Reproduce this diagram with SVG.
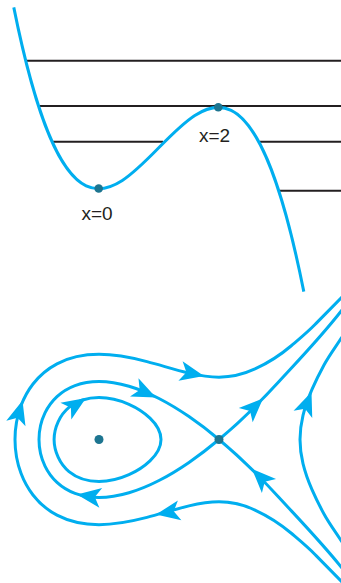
<svg xmlns="http://www.w3.org/2000/svg" xmlns:xlink="http://www.w3.org/1999/xlink" width="341" height="583" viewBox="0 0 341 583">
<style>
.lvl{stroke:#231f20;stroke-width:2;fill:none}
.blue{stroke:#00aeef;stroke-width:3;fill:none;stroke-linejoin:round}
.dot{fill:#1d7590}
.lbl{font-family:"Liberation Sans",Arial,sans-serif;font-size:19px;fill:#231f20}
.ah{fill:#00aeef}
</style>
<defs>
<path id="ah" d="M0,0 L-24,-10 L-18,0 L-24,10 Z"/>
</defs>
<g id="potential">
<g id="levels">
<line class="lvl" x1="25" y1="60.7" x2="341" y2="60.7"/>
<line class="lvl" x1="38.5" y1="106" x2="341" y2="106"/>
<line class="lvl" x1="52" y1="141.7" x2="163" y2="141.7"/>
<line class="lvl" x1="260" y1="141.7" x2="341" y2="141.7"/>
<line class="lvl" x1="280" y1="190.7" x2="341" y2="190.7"/>
</g>
<path id="V" class="blue" d="M13.78,7.33 C110.46,486.65 207.14,-192.45 303.81,291.65"/>
<g id="min"><circle class="dot" cx="98.7" cy="188.5" r="4.3"/><text class="lbl" x="81.5" y="220">x=0</text></g>
<g id="max"><circle class="dot" cx="218.3" cy="107.3" r="4.3"/><text class="lbl" x="199" y="142">x=2</text></g>
</g>
<g id="phase">
<g id="orbits">
<path id="inner" class="blue" d="M54.1,439.5 C54.1,427.7 59.87,414.88 69,407.4 C77.13,400.74 88.5,397.5 99,397.5 C109.3,397.5 119.6,400.1 129,404.3 C136.67,407.73 143.94,412.26 150,418.07 C155.78,423.61 161,431.5 161,439.5 C161,447.5 155.78,455.39 150,460.93 C143.94,466.74 136.67,471.27 129,474.7 C119.6,478.9 109.3,481.5 99,481.5 C88.5,481.5 77.13,478.26 69,471.6 C59.87,464.12 54.1,451.3 54.1,439.5 Z"/>
<path id="homoclinic" class="blue" d="M219,439.5 C209.34,447.59 199.38,455.27 189,462.4 C179.36,469.02 169.41,475.16 159,480.5 C149.39,485.42 139.36,489.68 129,492.75 C119.31,495.62 109.1,497.5 99,497.5 C90.88,497.5 82.61,496.24 75,493.4 C68.41,490.94 62.16,487.17 57,482.4 C52.05,477.82 47.94,472.18 45,466.1 C41.03,457.91 39,448.6 39,439.5 C39,430.4 41.03,421.09 45,412.9 C47.94,406.82 52.05,401.18 57,396.6 C62.16,391.83 68.41,388.06 75,385.6 C82.61,382.76 90.88,381.5 99,381.5 C109.1,381.5 119.31,383.38 129,386.25 C139.36,389.32 149.39,393.58 159,398.5 C169.41,403.84 179.36,409.98 189,416.6 C199.38,423.73 209.34,431.41 219,439.5"/>
<path id="unstable" class="blue" d="M219,439.5 C240.3,421.65 260.2,402 279,381.5 C300.2,358.5 322,335.9 342,310"/>
<path id="stable" class="blue" d="M219,439.5 C240.3,457.35 260.2,477 279,497.5 C300.2,520.5 322,543.1 342,568"/>
<path id="outer" class="blue" d="M342,582 C332.32,572.15 323.63,563.4 315,554.5 C307.55,546.82 299.14,539.94 291,533 C280.19,523.78 267.88,516.01 255,510.03 C243.84,504.85 231.3,501.83 219,501.83 C208.9,501.83 198.83,503.58 189,505.91 C174.89,509.26 161.04,513.73 147,517.37 C131.32,521.44 115.2,524.63 99,524.63 C84.65,524.63 69.7,521.82 57,515.15 C47.75,510.29 39.4,503.25 33,494.98 C27.94,488.44 23.9,481.02 21,473.28 C17,462.61 15,450.9 15,439.5 C15,428.1 17,416.39 21,405.72 C23.9,397.98 27.94,390.56 33,384.02 C39.4,375.75 47.75,368.71 57,363.85 C69.7,357.18 84.65,354.37 99,354.37 C115.2,354.37 131.32,357.56 147,361.63 C161.04,365.27 174.89,369.74 189,373.09 C198.83,375.42 208.9,377.17 219,377.17 C231.3,377.17 243.84,374.15 255,368.97 C267.88,362.99 280.19,355.22 291,346 C299.14,339.06 307.55,332.18 315,324.5 C323.63,315.6 332.32,306.85 342,297"/>
<path id="right" class="blue" d="M342,542 C335.49,531.95 329.05,523.39 324,514.06 C319.69,506.1 315.61,498.02 312,489.72 C308.33,481.28 305.16,472.59 303,463.65 C301.1,455.78 300,447.6 300,439.5 C300,431.4 301.1,423.22 303,415.35 C305.16,406.41 308.33,397.72 312,389.28 C315.61,380.98 319.69,372.9 324,364.94 C329.05,355.61 335.49,347.05 342,337"/>
</g>
<g id="arrows" class="ah">
<use xlink:href="#ah" transform="translate(86,398) rotate(-33)"/>
<use xlink:href="#ah" transform="translate(156,397.5) rotate(25)"/>
<use xlink:href="#ah" transform="translate(77,494.5) rotate(188)"/>
<use xlink:href="#ah" transform="translate(204,376) rotate(12)"/>
<use xlink:href="#ah" transform="translate(22.5,400.5) rotate(-74)"/>
<use xlink:href="#ah" transform="translate(156,514.5) rotate(170)"/>
<use xlink:href="#ah" transform="translate(263,398.5) rotate(-44)"/>
<use xlink:href="#ah" transform="translate(252,469) rotate(-135)"/>
<use xlink:href="#ah" transform="translate(311.5,392) rotate(-69)"/>
</g>
<g id="center"><circle class="dot" cx="99" cy="439.5" r="4.5"/></g>
<g id="saddle"><circle class="dot" cx="219" cy="439.5" r="4.5"/></g>
</g>
</svg>
